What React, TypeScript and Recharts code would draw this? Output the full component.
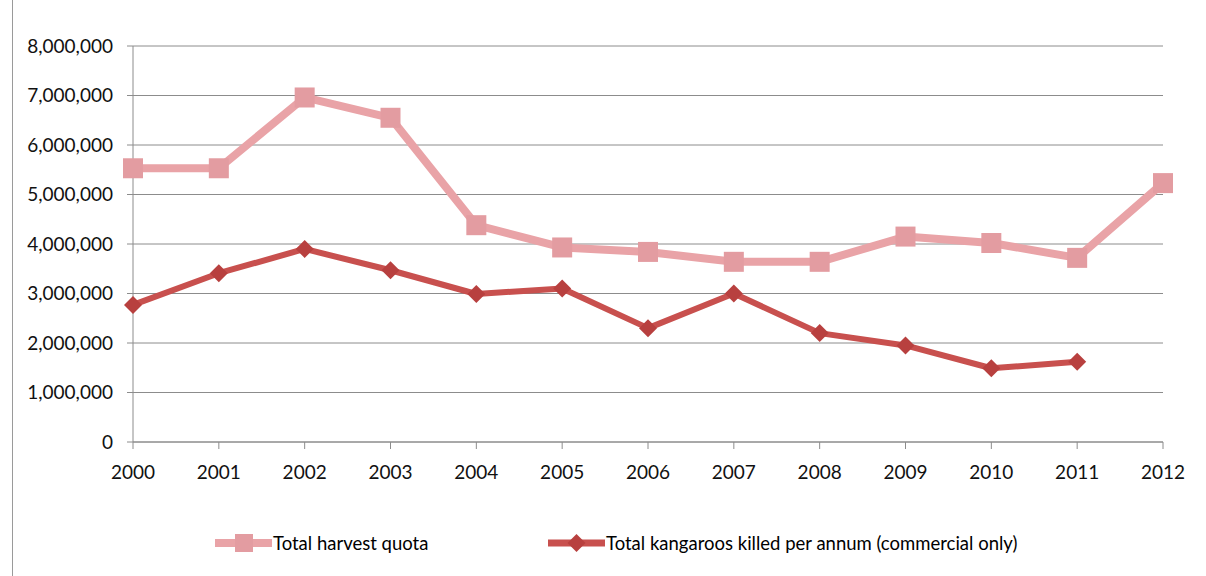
import React from 'react';
import { LineChart, Line, XAxis, YAxis, CartesianGrid, Legend } from 'recharts';

const years = ['2000', '2001', '2002', '2003', '2004', '2005', '2006', '2007', '2008', '2009', '2010', '2011', '2012'];
const harvestQuota = [5530000, 5530000, 6960000, 6550000, 4380000, 3930000, 3840000, 3640000, 3640000, 4150000, 4020000, 3720000, 5230000];
const killedPerAnnum: (number | null)[] = [2770000, 3410000, 3900000, 3470000, 2990000, 3100000, 2300000, 3000000, 2200000, 1950000, 1490000, 1620000, null];
const yTicks = [0, 1000000, 2000000, 3000000, 4000000, 5000000, 6000000, 7000000, 8000000];

const QUOTA_NAME = 'Total harvest quota';
const KILLED_NAME = 'Total kangaroos killed per annum (commercial only)';

const QUOTA_LINE = '#E9A3A7';
const QUOTA_MARK = '#E39CA1';
const KILLED_LINE = '#C8504E';
const KILLED_MARK = '#B8403F';

const data = years.map((year, i) => ({
  year,
  quota: harvestQuota[i],
  killed: killedPerAnnum[i],
}));

const FONT = 'Lato, "Open Sans", sans-serif';

const SquareDot = (props: any) => {
  const { cx, cy } = props;
  if (cx == null || cy == null) return null;
  const s = 20;
  return <rect x={cx - s / 2} y={cy - s / 2} width={s} height={s} fill={QUOTA_MARK} />;
};

const DiamondDot = (props: any) => {
  const { cx, cy, value } = props;
  if (cx == null || cy == null || value == null) return null;
  const r = 9;
  return (
    <polygon
      points={`${cx},${cy - r} ${cx + r},${cy} ${cx},${cy + r} ${cx - r},${cy}`}
      fill={KILLED_MARK}
    />
  );
};

const LegendContent = () => (
  <div style={{ height: 94, position: 'relative', fontFamily: FONT, fontSize: 18.5, color: '#000' }}>
    <div style={{ position: 'absolute', left: 215, top: 49, display: 'flex', alignItems: 'center' }}>
      <svg width={57} height={24}>
        <line x1={0} y1={12} x2={57} y2={12} stroke={QUOTA_LINE} strokeWidth={8} />
        <rect x={20} y={3} width={18} height={18} fill={QUOTA_MARK} />
      </svg>
      <span style={{ marginLeft: 1 }}>{QUOTA_NAME}</span>
    </div>
    <div style={{ position: 'absolute', left: 548, top: 49, display: 'flex', alignItems: 'center' }}>
      <svg width={57} height={24}>
        <line x1={0} y1={12} x2={57} y2={12} stroke={KILLED_LINE} strokeWidth={7} />
        <polygon points="28.5,3 37.5,12 28.5,21 19.5,12" fill={KILLED_MARK} />
      </svg>
      <span style={{ marginLeft: 1 }}>{KILLED_NAME}</span>
    </div>
  </div>
);

export default function App() {
  return (
    <div style={{ position: 'absolute', left: 0, top: 0, width: 1206, height: 576, background: '#fff' }}>
      <div style={{ position: 'absolute', left: 12, top: 0, width: 1, height: 576, background: '#9a9a9a' }} />
      <LineChart
        width={1206}
        height={576}
        data={data}
        margin={{ top: 46, right: 43, bottom: 0, left: 0 }}
      >
        <CartesianGrid horizontal vertical={false} stroke="#8c8c8c" strokeWidth={1} />
        <XAxis
          dataKey="year"
          height={40}
          stroke="#8c8c8c"
          tickLine={{ stroke: '#8c8c8c' }}
          tickSize={7}
          tick={{ fill: '#111', fontSize: 19, fontFamily: FONT }}
          tickMargin={17}
          interval={0}
        />
        <YAxis
          width={133}
          domain={[0, 8000000]}
          ticks={yTicks}
          stroke="#8c8c8c"
          tickLine={{ stroke: '#8c8c8c' }}
          tickSize={6}
          tickMargin={14}
          tick={{ fill: '#111', fontSize: 19, fontFamily: FONT }}
          tickFormatter={(v: number) => v.toLocaleString('en-US')}
        />
        <Legend verticalAlign="bottom" content={<LegendContent />} />
        <Line
          name={QUOTA_NAME}
          dataKey="quota"
          stroke={QUOTA_LINE}
          strokeWidth={8}
          strokeLinejoin="round"
          dot={<SquareDot />}
          activeDot={false}
          isAnimationActive={false}
        />
        <Line
          name={KILLED_NAME}
          dataKey="killed"
          stroke={KILLED_LINE}
          strokeWidth={6}
          strokeLinejoin="round"
          dot={<DiamondDot />}
          activeDot={false}
          connectNulls={false}
          isAnimationActive={false}
        />
      </LineChart>
    </div>
  );
}
